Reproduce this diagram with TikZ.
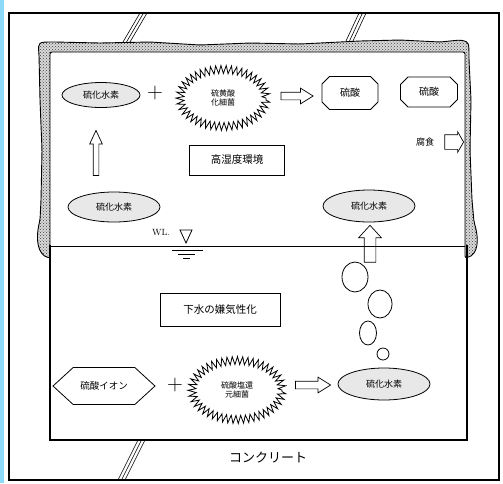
\documentclass[tikz,border=0pt]{standalone}
\usepackage{fontspec}
\newfontfamily\jp{Noto Sans CJK JP}
\usetikzlibrary{shapes.geometric,shapes.misc,shapes.symbols,shapes.arrows,decorations.pathmorphing,patterns}
\begin{document}
\begin{tikzpicture}[x=1pt,y=-1pt,
  jpfont/.style={font=\jp\fontsize{9}{10}\selectfont},
  smallfont/.style={font=\jp\fontsize{8}{9.5}\selectfont},
  boxfont/.style={font=\jp\fontsize{10.5}{12}\selectfont},
  gas/.style={ellipse, draw, fill=gray!18, line width=0.8pt, inner sep=0pt, jpfont},
  bact/.style={ellipse, draw, decorate, decoration={zigzag,segment length=5pt,amplitude=4pt}, line width=0.8pt, align=center, inner sep=0pt, smallfont},
  acid/.style={chamfered rectangle, chamfered rectangle xsep=8pt, draw, line width=0.8pt, inner sep=0pt, font=\jp\fontsize{10}{11}\selectfont},
  hexa/.style={signal, signal to=west and east, signal pointer angle=85, draw, line width=0.8pt, inner sep=0pt, font=\jp\fontsize{9.5}{11}\selectfont},
  labelbox/.style={rectangle, draw, line width=0.8pt, inner sep=0pt, boxfont},
  blockarrow/.style={single arrow, draw, line width=0.7pt, single arrow head indent=0pt},
  bubble/.style={ellipse, draw, line width=0.8pt, inner sep=0pt},
  plus/.style={font=\fontsize{22}{22}\selectfont, inner sep=0pt},
  frameline/.style={line width=1.2pt},
  breakline/.style={line width=0.6pt}
]
\useasboundingbox (0,0) rectangle (503,483);
\fill[white] (0,0) rectangle (503,483);
\fill[cyan!45] (0,0) rectangle (4,483);
% outer frame
\draw[frameline] (9,13) rectangle (499,480);
% stippled band (upper pipe)
\draw[line width=0.9pt, preaction={fill=gray!30}, pattern=crosshatch dots, pattern color=black!75, rounded corners=2pt]
  (50,258) -- (50,52) -- (465,52) -- (465,258)
  .. controls (479,255) and (479,238) .. (474,222)
  -- (472,200) -- (470,150) -- (471,100) -- (469,60)
  .. controls (469,42) .. (460,40)
  -- (440,42) -- (400,40) -- (360,41) -- (300,44) -- (250,43) -- (200,45) -- (150,42) -- (100,43) -- (55,42)
  .. controls (38,42) .. (39,55)
  -- (40,100) -- (42,150) -- (41,200) -- (40,220)
  .. controls (35,240) and (38,255) .. (50,258) -- cycle;
% lower box and water line
\draw[frameline] (50,245) -- (50,440) -- (467,440) -- (467,245);
\draw[line width=0.8pt] (50,246) -- (465,246);
% break lines
\foreach \d in {0,3.5,7}{
  \draw[breakline] (123+\d,42) -- (140+\d,13);
  \draw[breakline] (346+\d,41) -- (359+\d,13);
  \draw[breakline] (118+\d,480) -- (138+\d,440);
}
% water level symbol
\node[font=\fontsize{9}{10}\selectfont, inner sep=0pt] (wl) at (161,233) {WL.};
\draw[line width=0.8pt] (180,230) -- (192,230) -- (186,243) -- cycle;
\draw[line width=0.8pt] (172,250) -- (203,250);
\draw[line width=0.8pt] (178,254) -- (195,254);
\draw[line width=0.8pt] (183,258) -- (190,258);
% upper reaction
\node[gas, minimum width=78pt, minimum height=25pt] (e1) at (101,95) {硫化水素};
\node[plus] (p1) at (155,93) {+};
\node[bact, minimum width=86pt, minimum height=57pt] (sb1) at (223,98) {硫黄酸\\化細菌};
\node[blockarrow, inner sep=3.5pt, minimum height=32pt, single arrow head extend=4pt, single arrow tip angle=64] (a1) at (294,96) {};
\node[acid, minimum width=56pt, minimum height=33pt] (o1) at (350,93) {硫酸};
\node[acid, minimum width=57pt, minimum height=30pt] (o2) at (429,92) {硫酸};
\node[jpfont, inner sep=0pt] (fu) at (425,142) {腐食};
\node[blockarrow, inner sep=7pt, minimum height=16pt, single arrow head extend=3pt, single arrow tip angle=120] (a2) at (452,142) {};
\node[blockarrow, shape border rotate=90, inner sep=2.5pt, minimum height=45pt, single arrow head extend=3.5pt, single arrow tip angle=50] (a3) at (96,156) {};
\node[labelbox, minimum width=95pt, minimum height=30pt] (env) at (237,160) {高湿度環境};
\node[gas, minimum width=92pt, minimum height=30pt] (e2) at (114,207) {硫化水素};
\node[gas, minimum width=92pt, minimum height=32pt] (e3) at (369,206) {硫化水素};
\node[blockarrow, shape border rotate=90, inner sep=5.5pt, minimum height=37pt, single arrow head extend=5.5pt, single arrow tip angle=85] (a4) at (370,247) {};
% bubbles
\node[bubble, minimum width=26pt, minimum height=30pt] (b1) at (355,277) {};
\node[bubble, minimum width=24pt, minimum height=28pt] (b2) at (380,304) {};
\node[bubble, minimum width=17pt, minimum height=24pt] (b3) at (368,333) {};
\node[bubble, minimum width=12pt, minimum height=12pt] (b4) at (383,354) {};
% lower reaction
\node[labelbox, minimum width=120pt, minimum height=33pt] (anae) at (220,310) {下水の嫌気性化};
\node[hexa, minimum width=102pt, minimum height=37pt] (hx) at (104,386) {硫酸イオン};
\node[plus] (p2) at (175,385) {+};
\node[bact, minimum width=90pt, minimum height=59pt] (sb2) at (237,390) {硫酸塩還\\元細菌};
\node[blockarrow, inner sep=3.5pt, minimum height=35pt, single arrow head extend=4pt, single arrow tip angle=64] (a5) at (310,385) {};
\node[gas, minimum width=92pt, minimum height=32pt] (e4) at (384,384) {硫化水素};
\node[font=\jp\fontsize{13}{14}\selectfont, inner sep=0pt] (conc) at (268,458) {コンクリート};
\end{tikzpicture}
\end{document}
